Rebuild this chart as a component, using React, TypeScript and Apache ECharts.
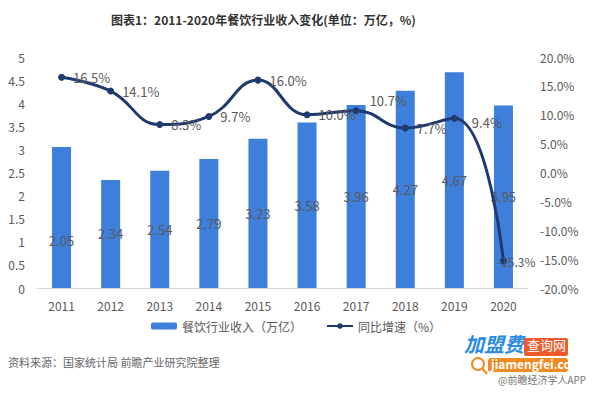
import React, { useEffect, useRef } from "react";
import * as echarts from "echarts";

const years = ["2011", "2012", "2013", "2014", "2015", "2016", "2017", "2018", "2019", "2020"];
// bar heights as drawn in the picture
const barHeights = [3.05, 2.34, 2.54, 2.79, 3.23, 3.58, 3.96, 4.27, 4.67, 3.95];
// values printed on the bars
const barLabels = [2.05, 2.34, 2.54, 2.79, 3.23, 3.58, 3.96, 4.27, 4.67, 3.95];
const growth = [16.5, 14.1, 8.3, 9.7, 16.0, 10.0, 10.7, 7.7, 9.4, -15.3];

const FONT = "'Noto Sans CJK SC', 'Noto Sans', sans-serif";
const GRAY = "#595959";

export default function App() {
  const ref = useRef<HTMLDivElement>(null);
  useEffect(() => {
    if (!ref.current) return;
    document.body.style.margin = "0";
    const chart = echarts.init(ref.current, null, { renderer: "svg" });
    chart.setOption({
      animation: false,
      backgroundColor: "#ffffff",
      textStyle: { fontFamily: FONT },
      title: {
        text: "图表1：2011-2020年餐饮行业收入变化(单位：万亿，%)",
        left: 106,
        top: 8,
        textStyle: { fontSize: 12, fontWeight: "bold", color: "#333333", fontFamily: FONT },
      },
      grid: { left: 37, right: 72, top: 57, bottom: 108 },
      legend: {
        data: ["餐饮行业收入（万亿）", "同比增速（%）"],
        left: 146,
        top: 315,
        itemGap: 24,
        itemWidth: 26,
        itemHeight: 7,
        textStyle: { fontSize: 12, color: GRAY, fontFamily: FONT },
      },
      xAxis: {
        type: "category",
        data: years,
        axisLine: { lineStyle: { color: "#d9d9d9" } },
        axisTick: { show: false },
        axisLabel: { color: GRAY, fontSize: 12, margin: 11 },
      },
      yAxis: [
        {
          type: "value",
          min: 0,
          max: 5,
          interval: 0.5,
          splitLine: { show: false },
          axisLine: { show: false },
          axisTick: { show: false },
          axisLabel: { color: GRAY, fontSize: 12, margin: 12 },
        },
        {
          type: "value",
          min: -20,
          max: 20,
          interval: 5,
          splitLine: { show: false },
          axisLine: { show: false },
          axisTick: { show: false },
          axisLabel: {
            color: GRAY,
            fontSize: 12,
            margin: 12,
            formatter: (v: number) => v.toFixed(1) + "%",
          },
        },
      ],
      series: [
        {
          name: "餐饮行业收入（万亿）",
          type: "bar",
          data: barHeights,
          barWidth: 19,
          itemStyle: { color: "#3d7fdb" },
          z: 2,
        },
        {
          name: "labels",
          type: "bar",
          data: barLabels,
          barWidth: 19,
          barGap: "-100%",
          itemStyle: { color: "rgba(0,0,0,0)" },
          label: {
            show: true,
            position: "inside",
            color: GRAY,
            fontSize: 13,
            formatter: (p: any) => p.value.toFixed(2),
          },
          z: 3,
        },
        {
          name: "同比增速（%）",
          type: "line",
          yAxisIndex: 1,
          data: growth.map((v, i) =>
            i === 6
              ? { value: v, label: { position: "right", offset: [2, -10] } }
              : i === 8
              ? { value: v, label: { position: "right", offset: [6, 4] } }
              : i === 9
              ? { value: v, label: { position: "right", distance: 0, offset: [-10, 1], fontSize: 12 } }
              : v
          ),
          smooth: 0.45,
          symbol: "circle",
          symbolSize: 7,
          lineStyle: { color: "#1f3a6e", width: 3 },
          itemStyle: { color: "#1f3a6e" },
          label: {
            show: true,
            position: "right",
            distance: 8,
            color: GRAY,
            fontSize: 13,
            formatter: (p: any) => Number(p.value).toFixed(1) + "%",
          },
          z: 4,
        },
      ],
      graphic: [
        {
          type: "text",
          left: 8,
          top: 356,
          style: { text: "资料来源：国家统计局 前瞻产业研究院整理", fontSize: 11, fill: "#666666", fontFamily: FONT },
        },
        {
          type: "text",
          left: 464,
          top: 333,
          style: { text: "加盟费", fontSize: 20, fontWeight: "bold", fontStyle: "italic", fill: "#2a8be0", fontFamily: FONT },
        },
        {
          type: "rect",
          shape: { x: 524, y: 338, width: 44, height: 18, r: 2 },
          style: { fill: "#ee5a2a" },
        },
        {
          type: "text",
          left: 527,
          top: 338,
          style: { text: "查询网", fontSize: 13, fill: "#ffffff", fontFamily: FONT },
        },
        {
          type: "rect",
          shape: { x: 488, y: 358, width: 80, height: 14, r: 3 },
          style: { fill: "#f08a24" },
        },
        {
          type: "text",
          left: 491,
          top: 357,
          style: { text: "jiamengfei.com", fontSize: 12, fontWeight: "bold", fill: "#ffffff", fontFamily: FONT },
        },
        {
          type: "circle",
          shape: { cx: 478, cy: 364, r: 6 },
          style: { fill: "#ffffff", stroke: "#f08a24", lineWidth: 2 },
        },
        {
          type: "line",
          shape: { x1: 482, y1: 368, x2: 487, y2: 374 },
          style: { stroke: "#f08a24", lineWidth: 2 },
        },
        {
          type: "text",
          left: 498,
          top: 374,
          style: { text: "@前瞻经济学人APP", fontSize: 10, fill: "#777777", fontFamily: FONT },
        },
      ],
    });
    return () => chart.dispose();
  }, []);
  return <div ref={ref} style={{ width: 600, height: 396 }} />;
}
